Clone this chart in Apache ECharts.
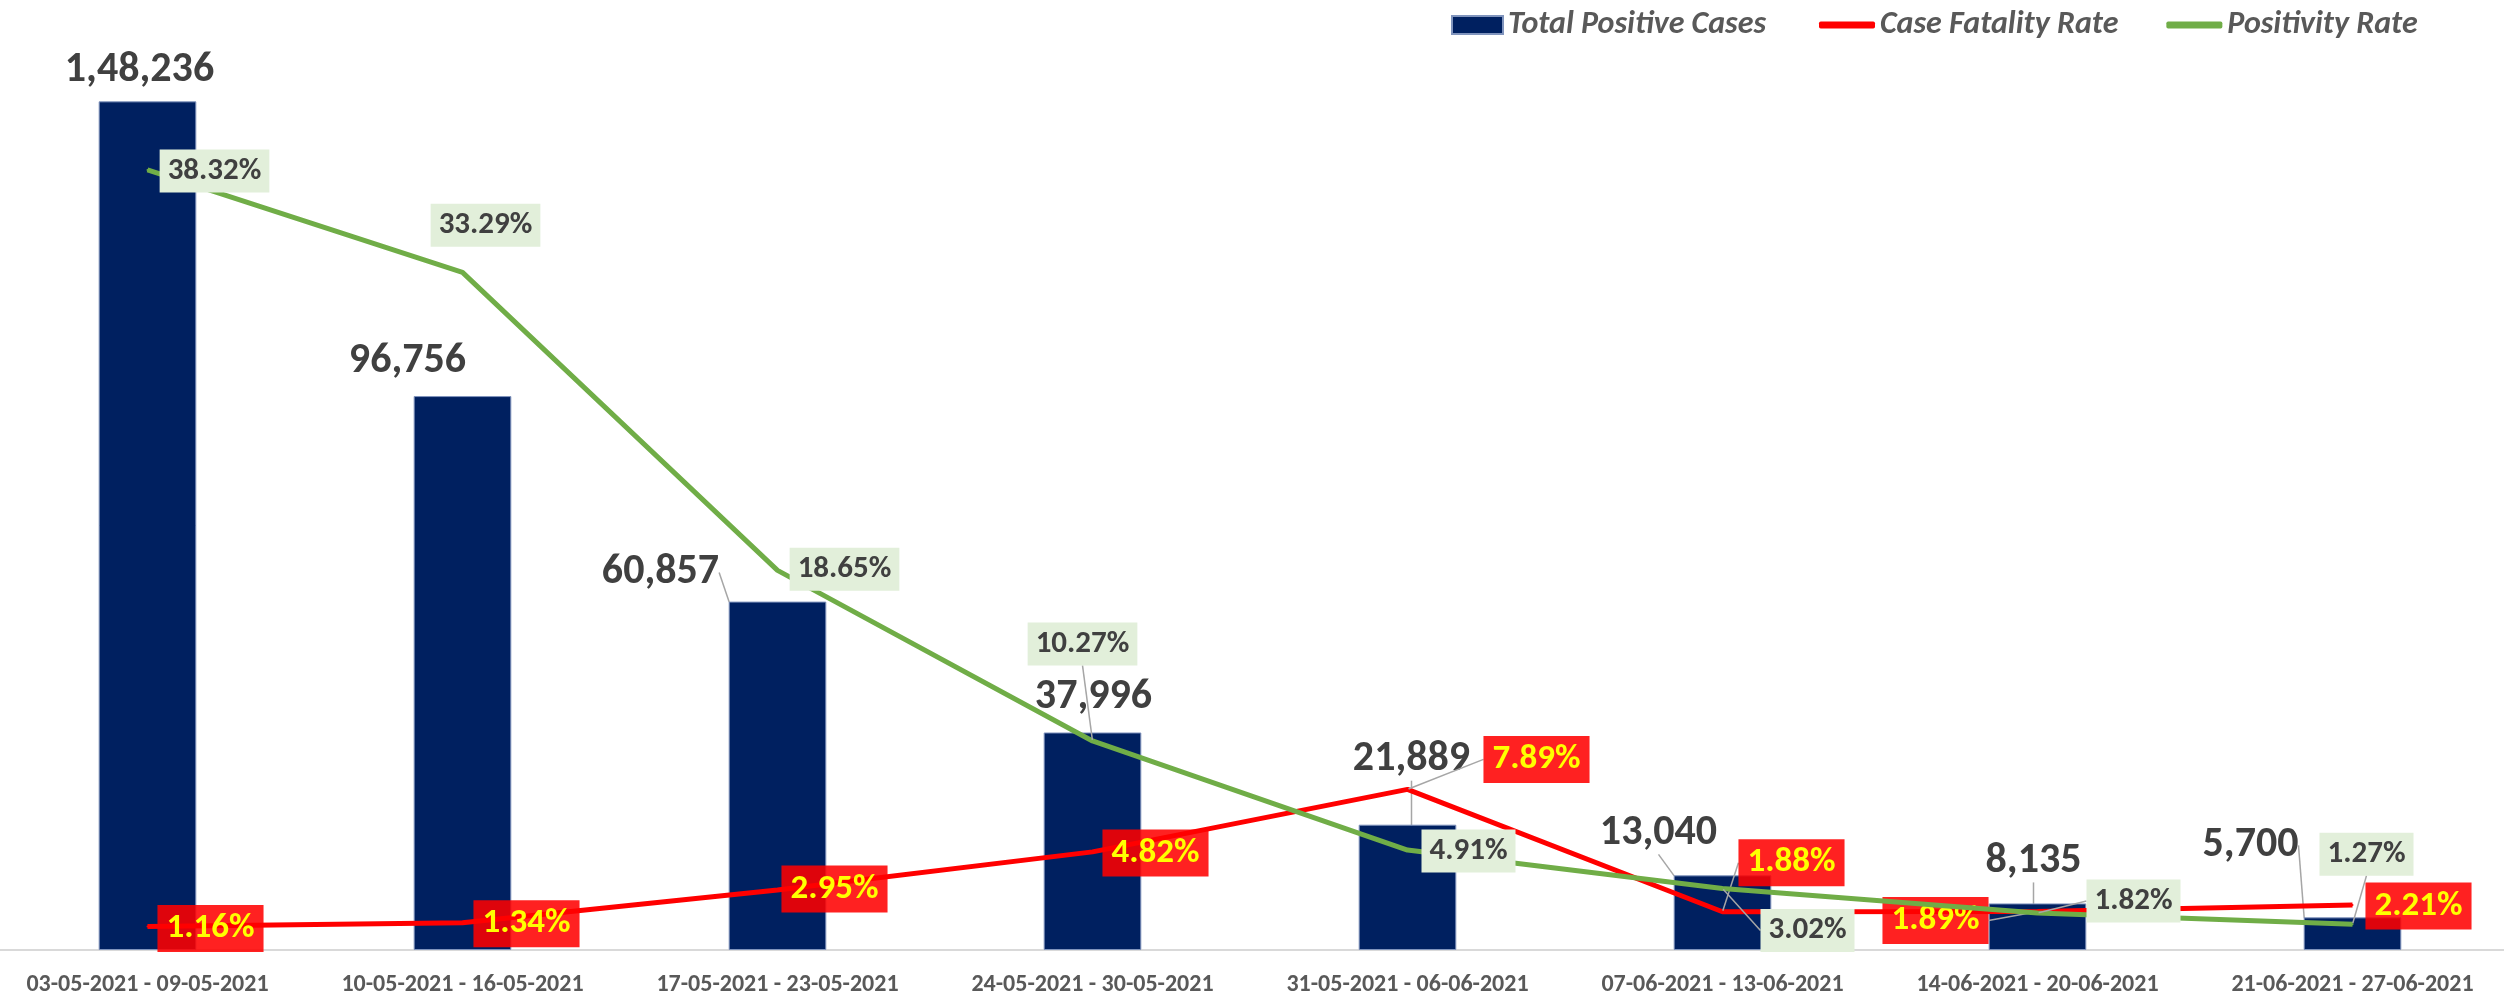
<!DOCTYPE html>
<html>
<head>
<meta charset="utf-8">
<script src="https://cdn.jsdelivr.net/npm/echarts@6/dist/echarts.min.js"></script>
<style>
    html, body { margin: 0; padding: 0; background: #ffffff; overflow: hidden; }
    /* plot area in the original runs a little past both edges */
    #chart { width: 2520px; height: 1000px; margin-left: -10px; }
</style>
</head>
<body>
<div id="chart"></div>
<script>
// weekly data
const weeks = [
    '03-05-2021 - 09-05-2021', '10-05-2021 - 16-05-2021', '17-05-2021 - 23-05-2021',
    '24-05-2021 - 30-05-2021', '31-05-2021 - 06-06-2021', '07-06-2021 - 13-06-2021',
    '14-06-2021 - 20-06-2021', '21-06-2021 - 27-06-2021'
];
const totalCases = [148236, 96756, 60857, 37996, 21889, 13040, 8135, 5700];
const fatalityRate = [1.16, 1.34, 2.95, 4.82, 7.89, 1.88, 1.89, 2.21];
const positivityRate = [38.32, 33.29, 18.65, 10.27, 4.91, 3.02, 1.82, 1.27];

// label nudges in px (labels were dragged around in the original)
const caseShift = [[-8, -31], [-55, -35], [-117, -29], [1, -35], [4, -65], [-64, -42], [-4, -42], [-102, -72]];
const cfrShift = [[63, 2], [64, 1], [57, -1], [63, 1], [129, -30], [69, -49], [-102, 9], [66, 1]];
const posShift = [[67, 1], [23, -47], [67, -1], [-10, -97], [61, 1], [85, 42], [96, -12], [14, -70]];
// which labels get a leader line
const caseLeader = [0, 0, 1, 0, 1, 1, 1, 1];
const cfrLeader = [0, 0, 0, 0, 1, 1, 1, 0];
const posLeader = [0, 0, 0, 1, 0, 1, 1, 1];

const FONT = 'Calibri, Carlito, "Liberation Sans Narrow", "Open Sans", sans-serif';
const leaderStyle = { color: '#a6a6a6', width: 1.5 };

// 1,48,236 style grouping
function inr(n) {
    const s = String(Math.round(n));
    if (s.length <= 3) return s;
    const rest = s.slice(0, -3).replace(/\B(?=(\d{2})+(?!\d))/g, ',');
    return rest + ',' + s.slice(-3);
}

function withLeader(values, flags) {
    return values.map(function (v, i) {
        return { value: v, labelLine: { show: !!flags[i], lineStyle: leaderStyle } };
    });
}

function shifter(shift) {
    return function (p) {
        return { dx: shift[p.dataIndex][0], dy: shift[p.dataIndex][1] };
    };
}

const legendText = { color: '#595959', fontSize: 32, fontStyle: 'italic', fontWeight: 'bold', fontFamily: FONT };

const chart = echarts.init(document.getElementById('chart'));
chart.setOption({
    backgroundColor: '#ffffff',
    textStyle: { fontFamily: FONT },
    legend: [
        {
            data: ['Total Positive Cases'],
            left: 1456, top: 4,
            icon: 'rect', itemWidth: 51, itemHeight: 18, itemGap: 10,
            textStyle: legendText
        },
        {
            data: ['Case Fatality Rate', 'Positivity Rate'],
            left: 1824, top: 4,
            icon: 'roundRect', itemWidth: 56, itemHeight: 7, itemGap: 48,
            textStyle: legendText
        }
    ],
    grid: { left: 0, right: 0, top: 34, bottom: 50 },
    xAxis: {
        type: 'category',
        data: weeks,
        axisTick: { show: false },
        axisLine: { lineStyle: { color: '#d9d9d9', width: 2 } },
        axisLabel: { color: '#595959', fontSize: 24, fontWeight: 'bold', margin: 23, interval: 0, fontFamily: FONT }
    },
    yAxis: [
        { type: 'value', min: 0, max: 160000, show: false },
        { type: 'value', min: 0, max: 45, show: false }
    ],
    series: [
        {
            name: 'Total Positive Cases',
            type: 'bar',
            barWidth: '31%',
            data: withLeader(totalCases, caseLeader),
            itemStyle: { color: '#002060', borderColor: '#8094bd', borderWidth: 1 },
            label: {
                show: true, position: 'top', distance: 0, verticalAlign: 'middle',
                color: '#404040', fontSize: 42, fontWeight: 'bold', fontFamily: FONT,
                formatter: function (p) { return inr(p.value); }
            },
            labelLayout: shifter(caseShift),
            labelLine: { show: false, lineStyle: leaderStyle }
        },
        {
            name: 'Case Fatality Rate',
            type: 'line',
            yAxisIndex: 1,
            data: withLeader(fatalityRate, cfrLeader),
            symbol: 'circle', symbolSize: 2,
            itemStyle: { color: '#ff0000' },
            lineStyle: { color: '#ff0000', width: 5 },
            z: 3,
            label: {
                show: true, position: 'inside',
                color: '#ffff00', fontSize: 35, fontWeight: 'bold', fontFamily: FONT,
                backgroundColor: 'rgba(255,0,0,0.87)', padding: [7, 9, 5, 9],
                formatter: function (p) { return p.value.toFixed(2) + '%'; }
            },
            labelLayout: shifter(cfrShift),
            labelLine: { show: false, lineStyle: leaderStyle }
        },
        {
            name: 'Positivity Rate',
            type: 'line',
            yAxisIndex: 1,
            data: withLeader(positivityRate, posLeader),
            symbol: 'circle', symbolSize: 2,
            itemStyle: { color: '#70ad47' },
            lineStyle: { color: '#70ad47', width: 5 },
            z: 4,
            label: {
                show: true, position: 'inside',
                color: '#404040', fontSize: 31, fontWeight: 'bold', fontFamily: FONT,
                backgroundColor: '#e2efda', padding: [7, 8, 5, 8],
                formatter: function (p) { return p.value.toFixed(2) + '%'; }
            },
            labelLayout: shifter(posShift),
            labelLine: { show: false, lineStyle: leaderStyle }
        }
    ]
});
</script>
</body>
</html>
